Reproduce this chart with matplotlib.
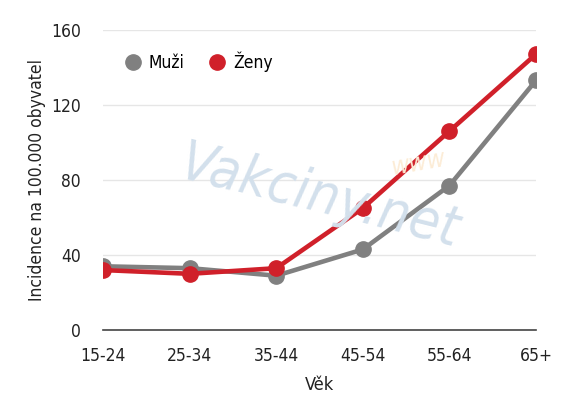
import matplotlib
matplotlib.use('Agg')
import matplotlib.pyplot as plt

# data
vek = ['15-24', '25-34', '35-44', '45-54', '55-64', '65+']
muzi = [34, 33, 29, 43, 77, 133]
zeny = [32, 30, 33, 65, 106, 147]
yticks = [0, 40, 80, 120, 160]

plt.rcParams['font.family'] = ['DejaVu Sans']
plt.rcParams['font.stretch'] = 'condensed'

fig = plt.figure(figsize=(5.8, 4.2), dpi=100)
ax = fig.add_axes([0.178, 0.214, 0.746, 0.715])

# watermark
fig.text(0.55, 0.53, 'Vakciny.net', fontsize=40, color='#d3e0ec', rotation=-14,
         ha='center', va='center', style='italic', zorder=0)
fig.text(0.72, 0.61, 'www', fontsize=18, color='#fcecd6', rotation=10,
         ha='center', va='center', style='italic', zorder=0)

x = range(len(vek))
ax.plot(x, muzi, color='#808080', lw=3.3, marker='o', ms=11, label='Muži',
        solid_capstyle='round', zorder=3)
ax.plot(x, zeny, color='#d0202a', lw=3.3, marker='o', ms=11, label='Ženy',
        solid_capstyle='round', zorder=4)

ax.set_xlim(0, 5)
ax.set_ylim(0, 160)
ax.set_xticks(list(x))
ax.set_xticklabels(vek)
ax.set_yticks(yticks)
ax.tick_params(length=0, labelsize=12.5, colors='#222222')
ax.tick_params(axis='x', pad=12)
ax.tick_params(axis='y', pad=16)
ax.grid(axis='y', color='#e6e6e6', lw=1)
ax.set_axisbelow(True)
for s in ['top', 'right', 'left']:
    ax.spines[s].set_visible(False)
ax.spines['bottom'].set_color('#444444')
ax.spines['bottom'].set_linewidth(1.2)
ax.patch.set_alpha(0)

ax.set_xlabel('Věk', fontsize=13, labelpad=8, color='#222222')
ax.set_ylabel('Incidence na 100.000 obyvatel', fontsize=12.5, labelpad=4, color='#222222')

leg = ax.legend(loc='upper left', bbox_to_anchor=(0.02, 0.98), ncol=2, frameon=False,
                handlelength=0.6, handletextpad=0.6, columnspacing=1.6, fontsize=12.5)
for h in leg.legend_handles:
    h.set_linestyle('none')

fig.savefig('out.png', dpi=100)
